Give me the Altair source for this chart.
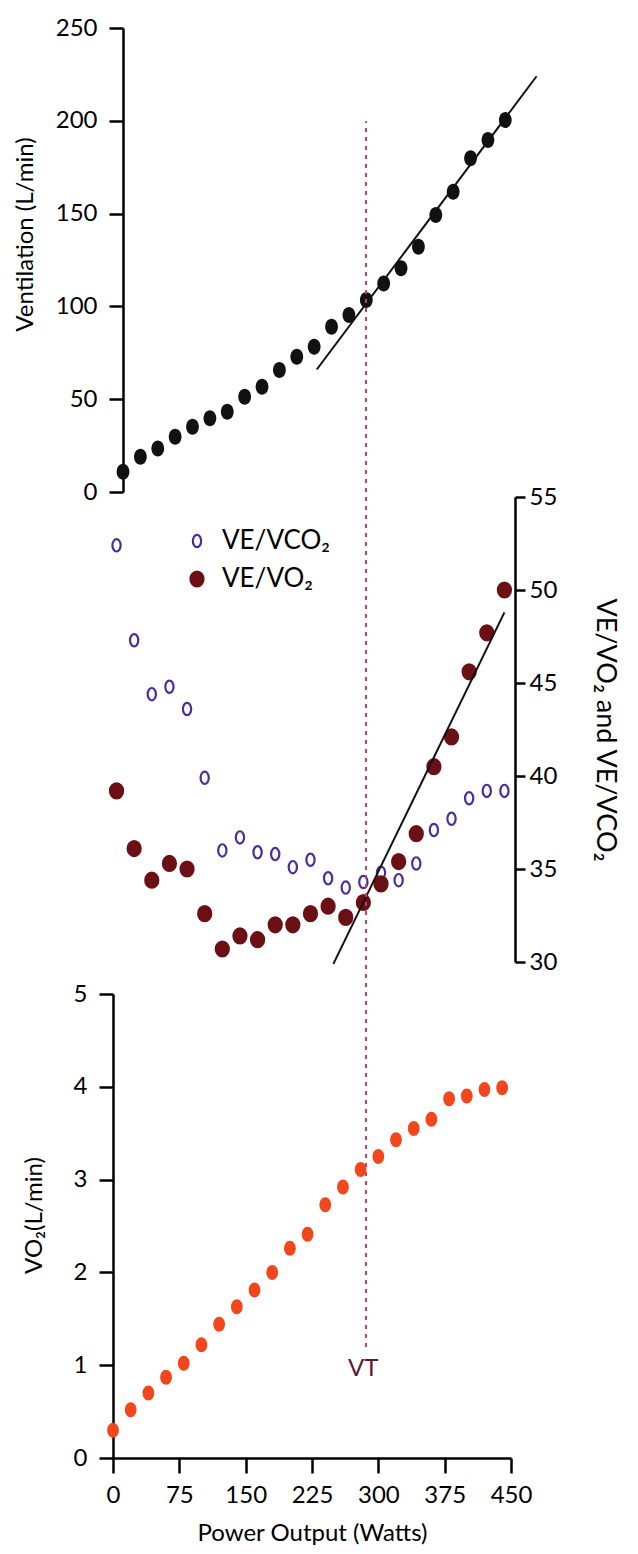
import altair as alt
import pandas as pd

# ---------------- data ----------------
power = [0, 20, 40, 60, 80, 100, 120, 140, 160, 180, 200, 220,
         240, 260, 280, 300, 320, 340, 360, 380, 400, 420, 440]

ventilation = [10.9, 19.0, 23.5, 29.8, 35.2, 39.7, 43.3, 51.3, 56.7, 65.7, 72.9, 78.3,
               89.1, 95.4, 103.4, 112.4, 120.5, 132.2, 149.2, 161.8, 179.8, 189.7, 200.4]

ve_vco2 = [52.4, 47.3, 44.4, 44.8, 43.6, 39.9, 36.0, 36.7, 35.9, 35.8, 35.1, 35.5,
           34.5, 34.0, 34.3, 34.8, 34.4, 35.3, 37.1, 37.7, 38.8, 39.2, 39.2]

ve_vo2 = [39.2, 36.1, 34.4, 35.3, 35.0, 32.6, 30.7, 31.4, 31.2, 32.0, 32.0, 32.6,
          33.0, 32.4, 33.2, 34.2, 35.4, 36.9, 40.5, 42.1, 45.6, 47.7, 50.0]

vo2 = [0.30, 0.52, 0.70, 0.87, 1.02, 1.22, 1.44, 1.63, 1.81, 2.00, 2.26, 2.41,
       2.73, 2.92, 3.11, 3.25, 3.43, 3.55, 3.65, 3.87, 3.90, 3.97, 3.99]

vent_fit_power = [223, 476]
vent_fit_value = [66, 224]

ratio_fit_power = [246, 440]
ratio_fit_value = [29.9, 48.8]

vt_power = 283
vt_ratio_low = 9.3      # dotted VT line extent, in VE/VO2 units
vt_ratio_high = 75.2
vt_label_vo2 = 0.96

series_names = ["VE/VCO₂", "VE/VO₂"]

vent_ticks = [0, 50, 100, 150, 200, 250]
ratio_ticks = [30, 35, 40, 45, 50, 55]
vo2_ticks = [0, 1, 2, 3, 4, 5]
power_ticks = [0, 75, 150, 225, 300, 375, 450]

# ---------------- styles ----------------
FONT = "Lato"
BLACK = "#111111"
PURPLE = "#4b2d9b"
MAROON = "#6b1015"
ORANGE = "#f2461c"
VT_COLOR = "#c0406a"


def ellipse(rx, ry):
    return f"M 0 {-ry} A {rx} {ry} 0 1 1 0 {ry} A {rx} {ry} 0 1 1 0 {-ry} Z"


# ---------------- tables ----------------
df_vent = pd.DataFrame({"power": power, "value": ventilation})
df_vent_fit = pd.DataFrame({"power": vent_fit_power, "value": vent_fit_value})

df_ratio = pd.concat([
    pd.DataFrame({"power": power, "value": ve_vco2, "series": series_names[0]}),
    pd.DataFrame({"power": power, "value": ve_vo2, "series": series_names[1]}),
])
df_ratio_fit = pd.DataFrame({"power": ratio_fit_power, "value": ratio_fit_value})
df_vt = pd.DataFrame({"power": [vt_power], "lo": [vt_ratio_low], "hi": [vt_ratio_high]})

df_vo2 = pd.DataFrame({"power": power, "value": vo2})
df_vt_label = pd.DataFrame({"power": [vt_power], "value": [vt_label_vo2], "label": ["VT"]})

# ---------------- top panel: ventilation ----------------
x_top = alt.X("power:Q", scale=alt.Scale(domain=[0, 450], range=[10, 401]), axis=None)
y_top_axis = alt.Axis(values=vent_ticks, title="Ventilation (L/min)", offset=-10,
                      tickSize=14, labelPadding=12, titlePadding=18, titleY=206)
y_top = alt.Y("value:Q", scale=alt.Scale(domain=[0, 250]), axis=y_top_axis)

top_pts = alt.Chart(df_vent).mark_point(
    shape=ellipse(0.8, 1), size=256, filled=True, color=BLACK, opacity=1
).encode(x=x_top, y=y_top)
top_fit = alt.Chart(df_vent_fit).mark_line(color=BLACK, strokeWidth=2).encode(x=x_top, y=y_top)
top = alt.layer(top_pts, top_fit).properties(width=400, height=464)

# ---------------- middle panel: ventilatory equivalents ----------------
x_mid = alt.X("power:Q", scale=alt.Scale(domain=[-4, 452]), axis=None)
y_mid_axis = alt.Axis(orient="right", values=ratio_ticks, title="VE/VO₂ and VE/VCO₂",
                      tickSize=10, labelPadding=4, titlePadding=34, titleFontSize=27)
y_mid_scale = alt.Scale(domain=[30, 55], range=[465, 0])
leg = alt.Legend(title=None, orient="none", legendX=71, legendY=500, padding=0,
                 rowPadding=12, labelOffset=12, symbolSize=225, symbolStrokeWidth=2.2,
                 labelFont=FONT, labelFontSize=26, labelColor="black")

mid_pts = alt.Chart(df_ratio).mark_point(size=225, strokeWidth=2.2, opacity=1).encode(
    x=x_mid,
    y=alt.Y("value:Q", scale=y_mid_scale, axis=y_mid_axis),
    color=alt.Color("series:N", scale=alt.Scale(domain=series_names, range=[PURPLE, MAROON]), legend=leg),
    fill=alt.Fill("series:N", scale=alt.Scale(domain=series_names, range=["transparent", MAROON]), legend=leg),
    shape=alt.Shape("series:N", scale=alt.Scale(domain=series_names,
                                                range=[ellipse(0.55, 0.82), ellipse(0.87, 1)]), legend=leg),
)
mid_fit = alt.Chart(df_ratio_fit).mark_line(color=BLACK, strokeWidth=2).encode(
    x=x_mid, y=alt.Y("value:Q", scale=y_mid_scale, axis=y_mid_axis))
vt_rule = alt.Chart(df_vt).mark_rule(color=VT_COLOR, strokeWidth=2, strokeDash=[4, 5]).encode(
    x=x_mid, y=alt.Y("lo:Q", scale=y_mid_scale, axis=y_mid_axis), y2="hi:Q")
mid = alt.layer(mid_pts, mid_fit, vt_rule).properties(width=402, height=492)

# ---------------- bottom panel: VO2 ----------------
x_bot = alt.X("power:Q", scale=alt.Scale(domain=[0, 450]),
              axis=alt.Axis(values=power_ticks, title="Power Output (Watts)", tickSize=15,
                            labelPadding=10, titlePadding=14, labelFlush=False,
                            labelOverlap=False))
y_bot = alt.Y("value:Q", scale=alt.Scale(domain=[0, 5]),
              axis=alt.Axis(values=vo2_ticks, title="VO₂(L/min)", tickSize=14,
                            labelPadding=12, titlePadding=27, titleY=221))

bot_pts = alt.Chart(df_vo2).mark_point(
    shape=ellipse(0.78, 1), size=225, filled=True, color=ORANGE, opacity=1
).encode(x=x_bot, y=y_bot)
vt_text = alt.Chart(df_vt_label).mark_text(
    font=FONT, fontSize=24, color="#5c1a33", baseline="middle", align="center"
).encode(x=x_bot, y=y_bot, text="label:N")
bot = alt.layer(bot_pts, vt_text).properties(width=398, height=464)

chart = alt.vconcat(top, mid, bot, spacing=5, bounds="flush").properties(
    padding={"left": 5, "top": 8, "right": 5, "bottom": 0},
    background="white",
).configure_axis(
    grid=False,
    domainColor="black", domainWidth=2.5,
    tickColor="black", tickWidth=2.5,
    labelFont=FONT, labelFontSize=24, labelColor="black",
    titleFont=FONT, titleFontSize=24, titleFontWeight="normal", titleColor="black",
).configure_view(strokeWidth=0)

chart.save("out.html", embed_options={"renderer": "svg", "actions": False})
